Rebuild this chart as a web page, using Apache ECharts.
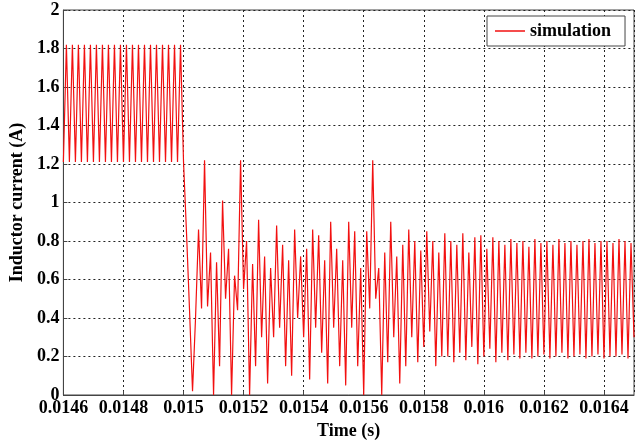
<!DOCTYPE html>
<html>
<head>
<meta charset="utf-8">
<script src="https://cdn.jsdelivr.net/npm/echarts@6/dist/echarts.min.js"></script>
<style>
  html, body { margin: 0; padding: 0; background: #fff; }
  #chart { width: 643px; height: 445px; }
</style>
</head>
<body>
<div id="chart"></div>
<script>
// Inductor current, one sample per half switching period (10 us), starting at 0.0146 s
const startTime = 0.0146;   // s
const sampleStep = 0.00001; // s

// steady state before the load step (0.0146 s .. 0.0150 s)
const currentBefore = [
  1.21, 1.82, 1.21, 1.82, 1.21, 1.82, 1.21, 1.82, 1.21, 1.82,
  1.21, 1.82, 1.21, 1.82, 1.21, 1.82, 1.21, 1.82, 1.21, 1.82,
  1.21, 1.82, 1.21, 1.82, 1.21, 1.82, 1.21, 1.82, 1.21, 1.82,
  1.21, 1.82, 1.21, 1.82, 1.21, 1.82, 1.21, 1.82, 1.21, 1.82,
  1.21
];

// transient and new steady state (0.01501 s .. 0.0165 s)
const currentAfter = [
  0.84, 0.44, 0.02, 0.40, 0.86, 0.45, 1.22, 0.46, 0.74, 0.00,
  0.69, 0.15, 1.01, 0.50, 0.76, 0.00, 0.62, 0.44, 1.22, 0.55,
  0.80, 0.00, 0.68, 0.15, 0.91, 0.30, 0.72, 0.06, 0.66, 0.30,
  0.88, 0.35, 0.78, 0.15, 0.70, 0.10, 0.86, 0.40, 0.72, 0.30,
  0.76, 0.08, 0.86, 0.35, 0.83, 0.22, 0.70, 0.06, 0.90, 0.35,
  0.76, 0.15, 0.70, 0.05, 0.90, 0.35, 0.85, 0.15, 0.66, 0.00,
  0.85, 0.45, 1.22, 0.50, 0.66, 0.00, 0.74, 0.17, 0.90, 0.30,
  0.72, 0.06, 0.78, 0.15, 0.86, 0.30, 0.80, 0.17, 0.75, 0.25,
  0.85, 0.33, 0.80, 0.15, 0.74, 0.20, 0.84, 0.20, 0.80, 0.17,
  0.78, 0.22, 0.84, 0.18, 0.74, 0.25, 0.82, 0.16, 0.83, 0.20,
  0.76, 0.24, 0.82, 0.17, 0.80, 0.22, 0.78, 0.18, 0.81, 0.21,
  0.79, 0.19, 0.80, 0.22, 0.77, 0.19, 0.81, 0.20, 0.79, 0.21,
  0.80, 0.19, 0.78, 0.20, 0.81, 0.22, 0.79, 0.19, 0.80, 0.20,
  0.78, 0.21, 0.80, 0.19, 0.81, 0.20, 0.79, 0.21, 0.80, 0.19,
  0.80, 0.20, 0.79, 0.20, 0.81, 0.21, 0.80, 0.19, 0.79, 0.30
];

const xTicks = { min: 0.0146, max: 0.0165, interval: 0.0002 };
const yTicks = { min: 0, max: 2, interval: 0.2 };
const seriesName = 'simulation';
const xTitle = 'Time (s)';
const yTitle = 'Inductor current (A)';

const samples = currentBefore.concat(currentAfter).map((v, i) => [
  +(startTime + i * sampleStep).toFixed(6), v
]);

const font = 'Liberation Serif, Times New Roman, serif';
const gridLine = { show: true, lineStyle: { color: '#222', width: 1, type: [2, 3] } };
const waveColor = '#f21010';

const chart = echarts.init(document.getElementById('chart'), null, { renderer: 'canvas' });
chart.setOption({
  animation: false,
  backgroundColor: '#fff',
  grid: {
    left: 63, right: 9, top: 10, bottom: 45,
    show: true, borderColor: '#444', borderWidth: 1
  },
  legend: {
    data: [{ name: seriesName, icon: 'rect' }],
    left: 487, top: 16,
    padding: [6, 14, 6, 8],
    itemWidth: 30, itemHeight: 1.5, itemGap: 8,
    backgroundColor: '#fff',
    borderColor: '#444', borderWidth: 1, borderRadius: 0,
    textStyle: { fontFamily: font, fontWeight: 'bold', fontSize: 18, color: '#000' }
  },
  xAxis: {
    type: 'value',
    min: xTicks.min, max: xTicks.max, interval: xTicks.interval,
    name: xTitle, nameLocation: 'middle', nameGap: 27,
    nameTextStyle: { fontFamily: font, fontWeight: 'bold', fontSize: 18, color: '#000' },
    axisLine: { show: true, lineStyle: { color: '#444' } },
    axisTick: { show: true, inside: true, length: 4, lineStyle: { color: '#444' } },
    axisLabel: {
      fontFamily: font, fontWeight: 'bold', fontSize: 18, color: '#000', margin: 4,
      showMaxLabel: false,
      formatter: v => (v > xTicks.max - xTicks.interval / 2 ? '' : String(+v.toFixed(4)))
    },
    splitLine: gridLine
  },
  yAxis: {
    type: 'value',
    min: yTicks.min, max: yTicks.max, interval: yTicks.interval,
    name: yTitle, nameLocation: 'middle', nameGap: 34,
    nameTextStyle: { fontFamily: font, fontWeight: 'bold', fontSize: 18, color: '#000' },
    axisLine: { show: true, lineStyle: { color: '#444' } },
    axisTick: { show: true, inside: true, length: 4, lineStyle: { color: '#444' } },
    axisLabel: {
      fontFamily: font, fontWeight: 'bold', fontSize: 18, color: '#000', margin: 4,
      formatter: v => String(+v.toFixed(1))
    },
    splitLine: gridLine
  },
  series: [{
    name: seriesName,
    type: 'line',
    data: samples,
    symbol: 'none',
    lineStyle: { color: waveColor, width: 1.2 },
    itemStyle: { color: waveColor }
  }]
});
</script>
</body>
</html>
